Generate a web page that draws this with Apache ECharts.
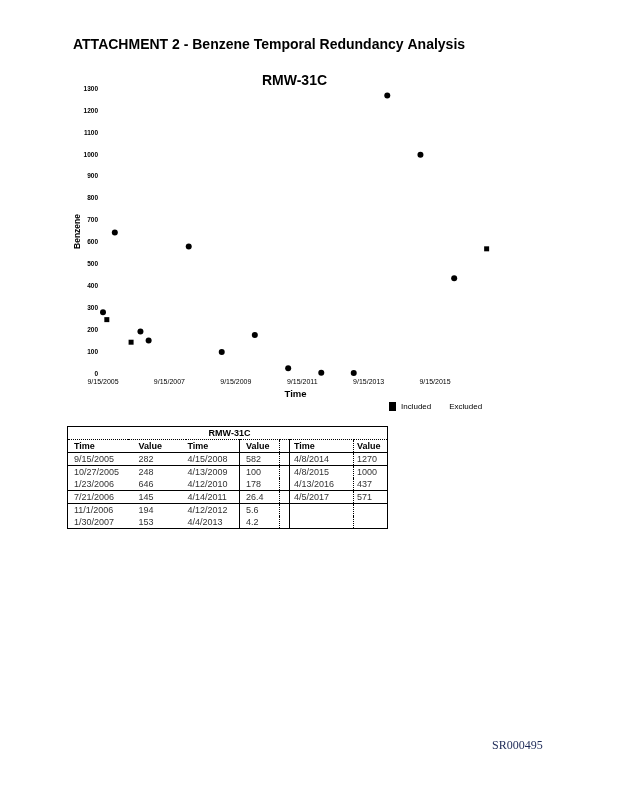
<!DOCTYPE html>
<html>
<head>
<meta charset="utf-8">
<title>RMW-31C</title>
<script src="https://cdn.jsdelivr.net/npm/echarts@6/dist/echarts.min.js"></script>
<style>
html, body { margin: 0; padding: 0; background: #fff; }
#chart { position: absolute; left: 0; top: 0; width: 618px; height: 800px; }
#tbl { position: absolute; left: 67px; top: 426px; border-collapse: collapse; table-layout: fixed;
       font-family: "Liberation Sans", Arial, sans-serif; font-size: 9px; color: #333; border: 1px solid #000; }
#tbl td { height: 12px; line-height: 12px; padding: 0 0 0 4px; white-space: nowrap; overflow: hidden; }
#tbl .ttl td { text-align: center; font-weight: bold; border-bottom: 1px dotted #000; color: #000; }
#tbl .hdr td { font-weight: bold; color: #000; }
#tbl .line td { border-bottom: 1px solid #000; }
#tbl td.solid { border-left: 1px solid #000; }
#tbl td.dot { border-left: 1px dotted #000; }
</style>
</head>
<body>
<div id="chart"></div>
<table id="tbl"></table>
<script>
// sampling dates and benzene values
var dates = ['9/15/2005', '10/27/2005', '1/23/2006', '7/21/2006', '11/1/2006', '1/30/2007',
             '4/15/2008', '4/13/2009', '4/12/2010', '4/14/2011', '4/12/2012', '4/4/2013',
             '4/8/2014', '4/8/2015', '4/13/2016', '4/5/2017'];
var values = [282, 248, 646, 145, 194, 153,
              582, 100, 178, 26.4, 5.6, 4.2,
              1270, 1000, 437, 571];
var xTickLabels = ['9/15/2005', '9/15/2007', '9/15/2009', '9/15/2011', '9/15/2013', '9/15/2015'];
var squarePoints = ['10/27/2005', '7/21/2006', '4/5/2017'];

var DAY = 86400000;
function toTs(s) {
    var p = s.split('/');
    return Date.UTC(+p[2], +p[0] - 1, +p[1]);
}
var t0 = toTs(dates[0]);
// years since first sample
function yrs(s) {
    return (toTs(s) - t0) / (365.25 * DAY);
}

var pts = dates.map(function (d, i) { return [yrs(d), values[i], d]; });

var myChart = echarts.init(document.getElementById('chart'));
var option = {
    animation: false,
    title: [{
        text: 'ATTACHMENT 2 - Benzene Temporal Redundancy Analysis',
        left: 73, top: 38, padding: 0,
        textStyle: { fontFamily: 'Liberation Sans', fontSize: 14, fontWeight: 'bold', color: '#000' }
    }, {
        text: 'RMW-31C',
        left: 262, top: 74, padding: 0,
        textStyle: { fontFamily: 'Liberation Sans', fontSize: 14, fontWeight: 'bold', color: '#000' }
    }, {
        text: 'SR000495',
        left: 492, top: 740, padding: 0,
        textStyle: { fontFamily: 'Liberation Serif', fontSize: 12, fontWeight: 'normal', color: '#1d2a57' }
    }],
    legend: {
        data: ['Included', 'Excluded'],
        left: 389, top: 402,
        padding: 0,
        icon: 'rect',
        itemWidth: 7, itemHeight: 9, itemGap: 6,
        textStyle: { fontFamily: 'Liberation Sans', fontSize: 8, color: '#000' }
    },
    grid: { left: 103, right: 130, top: 89, bottom: 426 },
    xAxis: {
        type: 'value',
        min: 0,
        max: yrs('4/20/2017'),
        interval: 2,
        name: 'Time',
        nameLocation: 'middle',
        nameGap: 15,
        nameMoveOverlap: false,
        nameTextStyle: { fontFamily: 'Liberation Sans', fontSize: 9.5, fontWeight: 'bold', color: '#000' },
        axisLine: { show: false },
        axisTick: { show: false },
        splitLine: { show: false },
        axisLabel: {
            margin: 5,
            fontFamily: 'Liberation Sans', fontSize: 7, color: '#000',
            formatter: function (v) {
                var i = Math.round(v / 2);
                return Math.abs(v - i * 2) < 1e-6 && xTickLabels[i] ? xTickLabels[i] : '';
            }
        }
    },
    yAxis: {
        type: 'value',
        min: 0, max: 1300, interval: 100,
        name: 'Benzene',
        nameLocation: 'middle',
        nameGap: 21,
        nameMoveOverlap: false,
        nameTextStyle: { fontFamily: 'Liberation Sans', fontSize: 8.5, fontWeight: 'bold', color: '#000' },
        axisLine: { show: false },
        axisTick: { show: false },
        splitLine: { show: false },
        axisLabel: {
            margin: 5, fontFamily: 'Liberation Sans', fontSize: 6.5, fontWeight: 'bold', color: '#000',
            formatter: function (v) { return String(v); }
        }
    },
    series: [{
        name: 'Included',
        type: 'scatter',
        data: pts,
        symbol: function (v) { return squarePoints.indexOf(v[2]) >= 0 ? 'rect' : 'circle'; },
        symbolSize: function (v) { return squarePoints.indexOf(v[2]) >= 0 ? 5 : 6; },
        itemStyle: { color: '#000', opacity: 1 }
    }, {
        name: 'Excluded',
        type: 'scatter',
        data: [],
        itemStyle: { color: '#fff', opacity: 1 }
    }]
};
myChart.setOption(option);

// data table, three column groups built from the same arrays
var groups = [[0, 6], [6, 12], [12, 16]];
var widths = [60, 58, 54, 40, 10, 64, 34];
var cls = ['', '', '', 'solid', 'dot', 'solid', 'dot'];
var pads = [6, 11, 2, 6, 0, 4, 3];
var lined = [true, false, true, true, false, true];
var tbl = document.getElementById('tbl');
var html = '<colgroup>' + widths.map(function (w) { return '<col style="width:' + w + 'px">'; }).join('') + '</colgroup>';
html += '<tr class="ttl"><td colspan="7">RMW-31C</td></tr>';
function row(cells, rc) {
    return '<tr class="' + rc + '">' + cells.map(function (c, j) {
        return '<td class="' + cls[j] + '" style="padding-left:' + pads[j] + 'px">' + c + '</td>';
    }).join('') + '</tr>';
}
html += row(['Time', 'Value', 'Time', 'Value', '', 'Time', 'Value'], 'hdr line');
for (var r = 0; r < 6; r++) {
    var cells = [];
    groups.forEach(function (g, gi) {
        var k = g[0] + r;
        if (gi === 2) cells.push('');
        if (k < g[1]) { cells.push(dates[k]); cells.push(String(values[k])); }
        else { cells.push(''); cells.push(''); }
    });
    html += row(cells, lined[r] ? 'line' : '');
}
tbl.innerHTML = html;
</script>
</body>
</html>
